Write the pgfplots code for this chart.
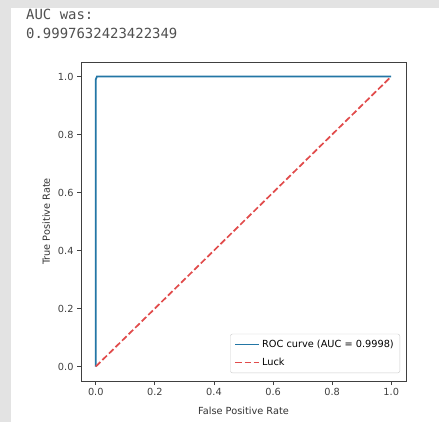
\documentclass[border=0pt]{standalone}
\usepackage{pgfplots}
\pgfplotsset{compat=1.18}
\usepackage{fontspec}
\setmainfont{DejaVu Sans}
\newfontfamily\monofont{DejaVu Sans Mono}
\definecolor{roc}{RGB}{35,118,165}
\definecolor{luck}{RGB}{225,75,75}
\definecolor{txt}{RGB}{80,80,80}
\begin{document}
\begin{tikzpicture}[x=1bp,y=1bp]
\useasboundingbox (0,0) rectangle (439,422);
\fill[gray!22] (0,0) rectangle (439,422);
\fill[white] (11,0) rectangle (439,414);
\node[anchor=base west, inner sep=0pt, text=txt, font=\monofont\fontsize{14}{16}\selectfont] at (26,402) {AUC was:};
\node[anchor=base west, inner sep=0pt, text=txt, font=\monofont\fontsize{14}{16}\selectfont] at (26,384) {0.9997632423422349};
\begin{axis}[
  at={(81bp,41bp)}, anchor=south west,
  scale only axis, width=325bp, height=319bp,
  xmin=-0.05, xmax=1.05, ymin=-0.05, ymax=1.05,
  xtick={0,0.2,0.4,0.6,0.8,1.0}, ytick={0,0.2,0.4,0.6,0.8,1.0},
  /pgf/number format/assume math mode=true,
  /pgf/number format/.cd, fixed, fixed zerofill, precision=1, /pgfplots/.cd,
  tick align=outside, xtick pos=bottom, ytick pos=left,
  major tick length=4bp,
  axis line style={black!75, line width=0.8bp},
  every tick/.style={black!75, line width=0.8bp},
  tick label style={font=\fontsize{9.8}{11}\selectfont, text=black!75},
  xlabel={False Positive Rate}, ylabel={True Positive Rate},
  label style={font=\fontsize{9.8}{11}\selectfont, text=black!80},
  xlabel style={yshift=-4bp},
  ylabel style={yshift=1bp},
  legend cell align=left,
  legend style={at={(0.9815,0.025)}, anchor=south east, font=\fontsize{9.8}{11}\selectfont, draw=black!20, rounded corners=2bp, fill=white, inner xsep=4bp, inner ysep=4bp, row sep=5bp},
  legend image code/.code={\draw[#1, line width=1.7bp] (0bp,0bp) -- (24bp,0bp);},
]
\addplot[roc, line width=1.7bp] coordinates {(0,0) (0,0.99) (0.004,1) (1,1)};
\addlegendentry{ROC curve (AUC = 0.9998)}
\addplot[luck, line width=1.7bp, dash pattern=on 6.4bp off 2.8bp] coordinates {(0,0) (1,1)};
\addlegendentry{Luck}
\end{axis}
\end{tikzpicture}
\end{document}
